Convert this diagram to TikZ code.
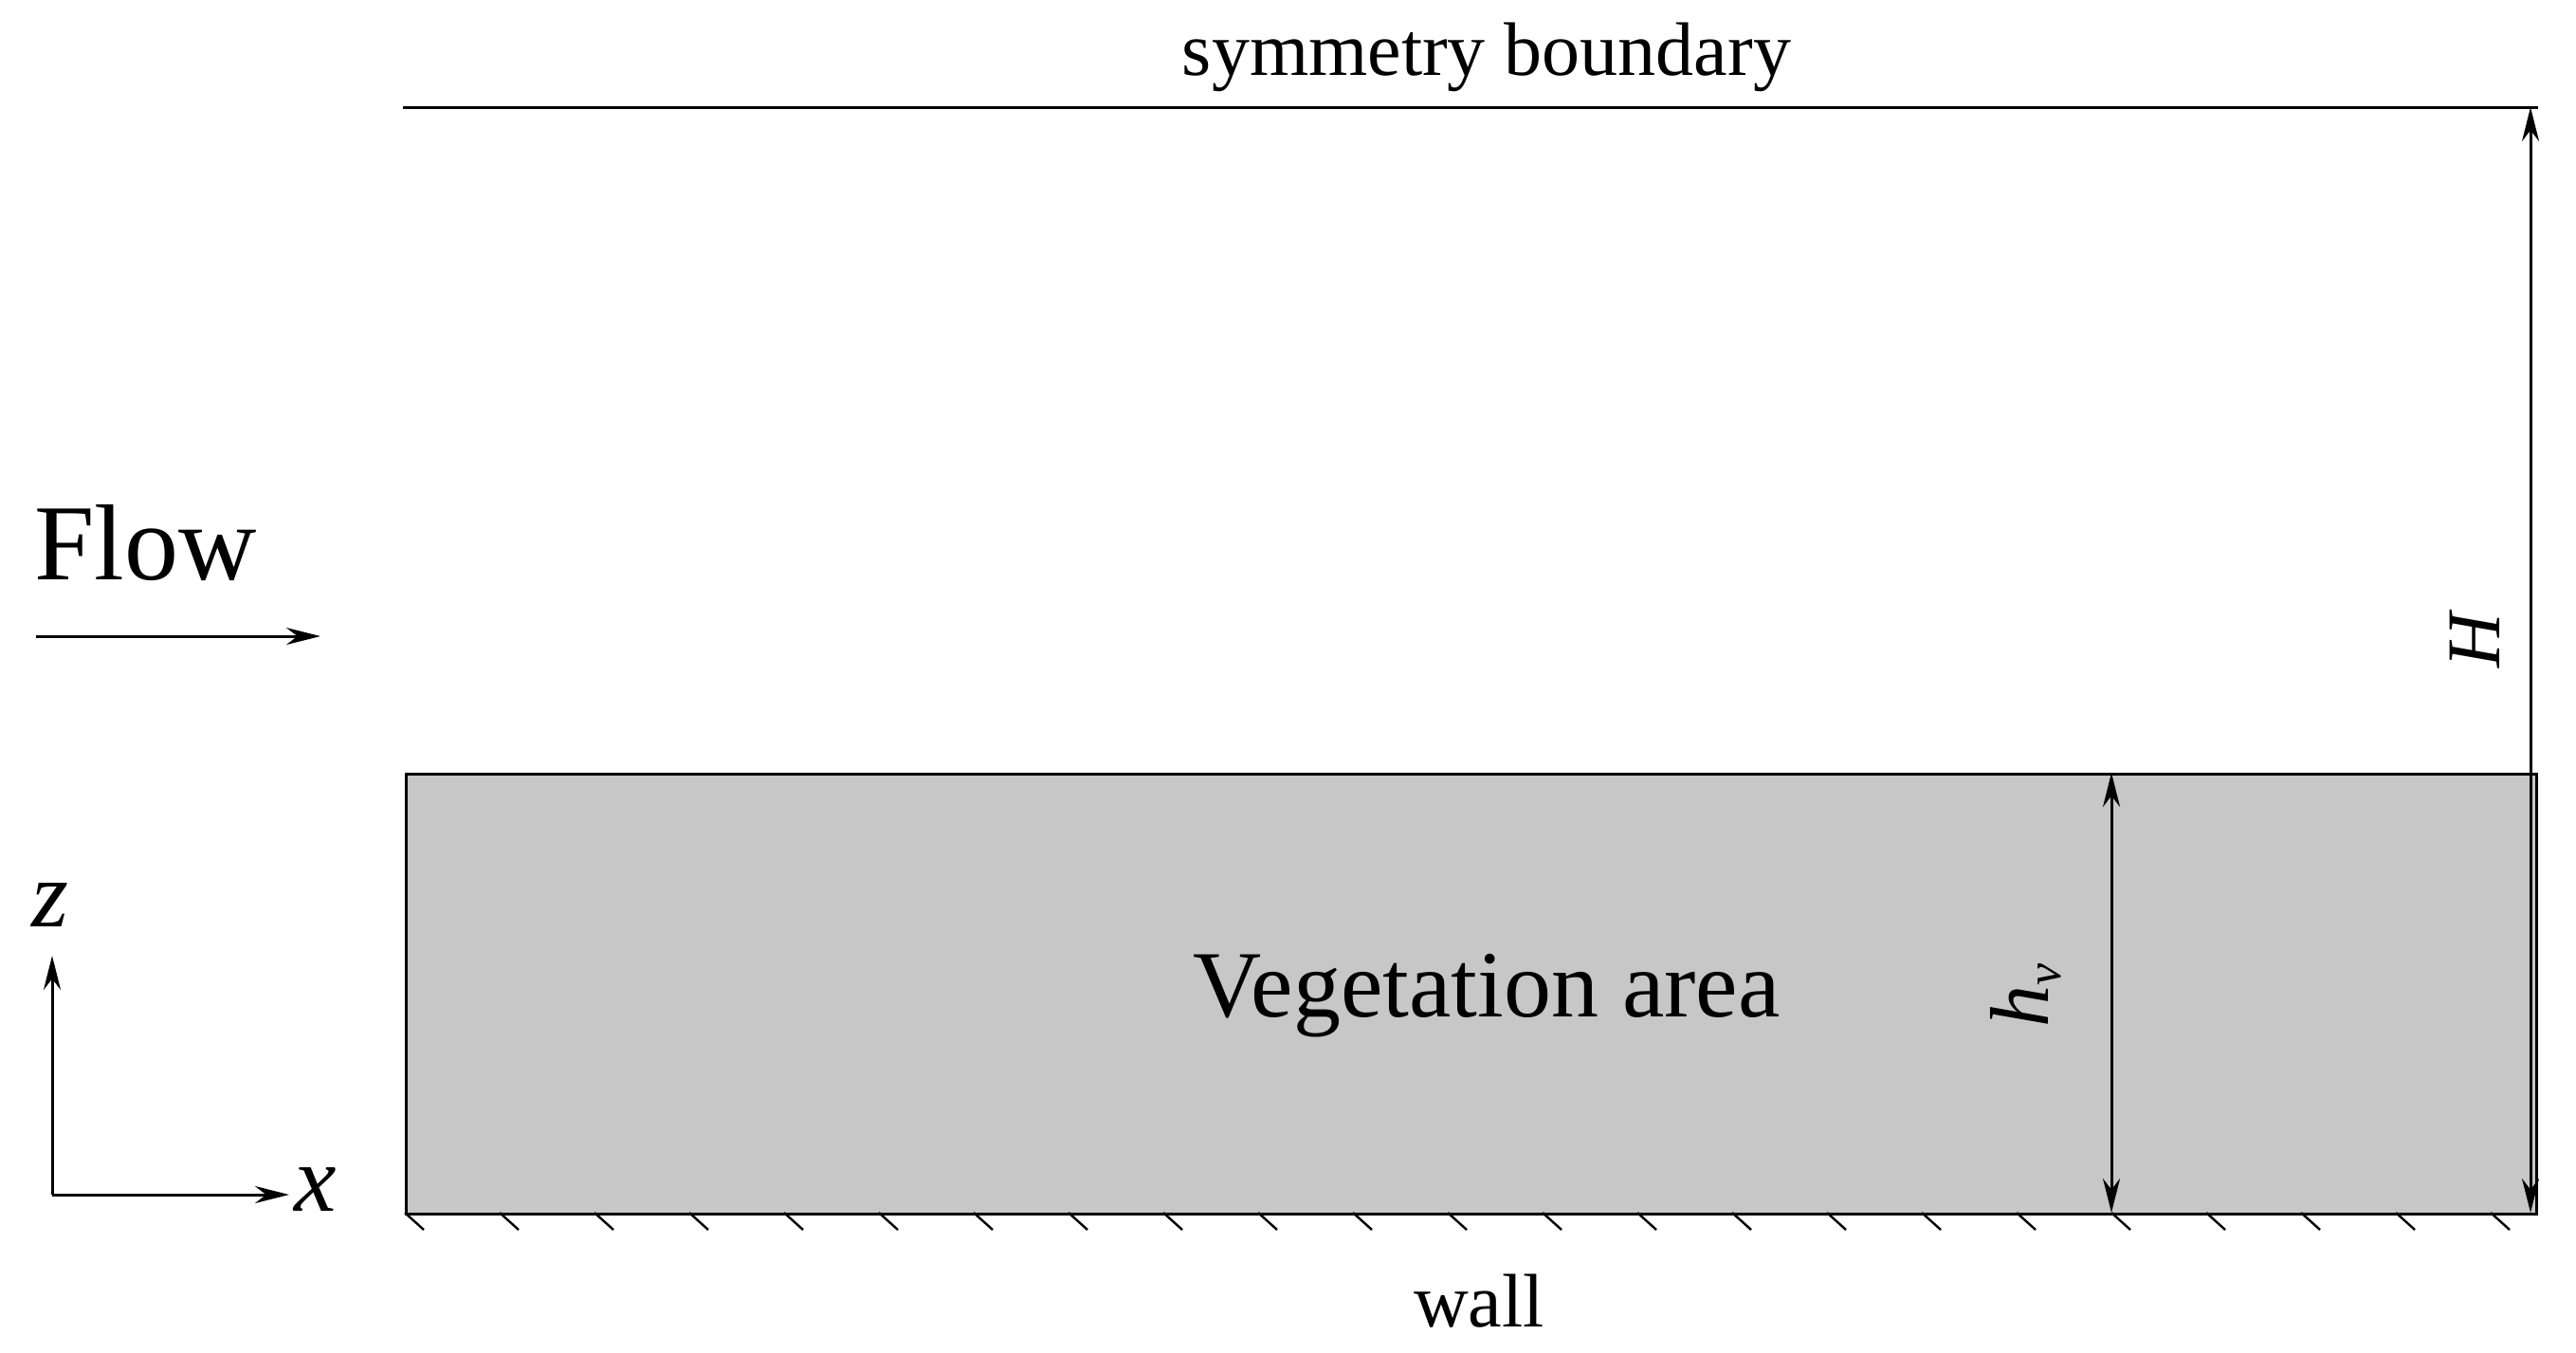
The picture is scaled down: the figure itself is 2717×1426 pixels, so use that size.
\documentclass[tikz,border=0pt]{standalone}
\usepackage{fontspec}
\setmainfont{Liberation Serif}
\usetikzlibrary{arrows.meta}
\begin{document}
\begin{tikzpicture}[x=0.5pt,y=-0.5pt,
  ln/.style={line width=1.5pt},
  arr/.style={ln,-{Stealth[length=18pt,width=9pt]}},
  darr/.style={ln,{Stealth[length=18pt,width=9pt]}-{Stealth[length=18pt,width=9pt]}},
  lbl/.style={font=\fontsize{40}{48}\selectfont,inner sep=0}]
\useasboundingbox (0,0) rectangle (2717,1426);
\coordinate (tl) at (425,113);
\coordinate (tr) at (2677,113);
\draw[ln] (tl) -- (tr);
\node[lbl] (sym) at (1568,60) {symmetry boundary};
\node[draw,ln,fill=black!22,minimum width=1123.5pt,minimum height=232pt,anchor=north west,inner sep=0] (veg) at (427,815) {};
\node[lbl,font=\fontsize{50}{60}\selectfont] (vt) at (1568,1050) {Vegetation area};
\foreach \i in {0,...,22} \draw[line width=1.2pt] (427+\i*100,1279) -- ++(20,18);
\node[lbl] (wall) at (1560,1372) {wall};
\coordinate (Hb) at (2669,1279);
\coordinate (Ht) at (2669,113);
\draw[darr] (Ht) -- (Hb);
\node[lbl,rotate=90,font=\fontsize{40}{48}\selectfont\itshape] (H) at (2610,676) {H};
\coordinate (ht) at (2227,815);
\coordinate (hb) at (2227,1279);
\draw[darr] (ht) -- (hb);
\node[lbl,rotate=90,font=\fontsize{44}{50}\selectfont] (hv) at (2137,1050) {\textit{h}\raisebox{-0.15em}{\fontsize{26}{30}\selectfont\textit{v}}};
\node[lbl,font=\fontsize{57}{68}\selectfont,anchor=west] (flow) at (36,572) {Flow};
\coordinate (fa) at (38,671);
\coordinate (fb) at (338,671);
\draw[arr] (fa) -- (fb);
\coordinate (o) at (55,1260);
\coordinate (zu) at (55,1008);
\coordinate (xr) at (305,1260);
\draw[arr] (o) -- (zu);
\draw[arr] (o) -- (xr);
\node[lbl,font=\fontsize{50}{60}\selectfont\itshape] (z) at (53,955) {z};
\node[lbl,font=\fontsize{50}{60}\selectfont\itshape] (x) at (333,1255) {x};
\end{tikzpicture}
\end{document}
